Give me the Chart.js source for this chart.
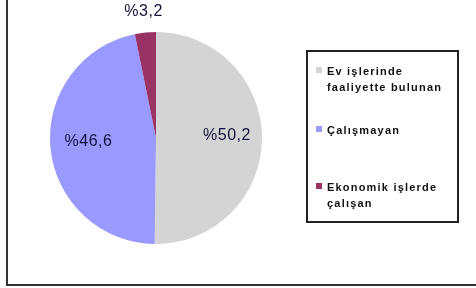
<!DOCTYPE html>
<html>
<head>
<meta charset="utf-8">
<script src="https://cdn.jsdelivr.net/npm/chart.js@4.4.1/dist/chart.umd.min.js"></script>
<style>
html,body{margin:0;padding:0;background:#fff;}
#wrap{position:relative;width:476px;height:288px;}
</style>
</head>
<body>
<div id="wrap"><canvas id="c" width="476" height="288"></canvas></div>
<script>
const categories = ["Ev işlerinde faaliyette bulunan", "Çalışmayan", "Ekonomik işlerde çalışan"];
const legendLines = [["Ev işlerinde", "faaliyette bulunan"], ["Çalışmayan"], ["Ekonomik işlerde", "çalışan"]];
const values = [50.2, 46.6, 3.2];
const valueLabels = ["%50,2", "%46,6", "%3,2"];
const colors = ["#d4d4d4", "#9999ff", "#993366"];

const decor = {
  id: 'decor',
  afterDraw(chart) {
    const ctx = chart.ctx;
    ctx.save();
    ctx.strokeStyle = '#333';
    ctx.lineWidth = 2;
    ctx.beginPath();
    ctx.moveTo(7, 0); ctx.lineTo(7, 285); ctx.lineTo(476, 285);
    ctx.stroke();

    const meta = chart.getDatasetMeta(0);
    const radFactor = [0.67, 0.64, 1.17];
    ctx.font = '16px "Liberation Sans", Arial, sans-serif';
    ctx.letterSpacing = '0.5px';
    ctx.fillStyle = '#14143a';
    ctx.textAlign = 'center';
    ctx.textBaseline = 'middle';
    meta.data.forEach((arc, i) => {
      const p = arc.getProps(['x','y','startAngle','endAngle','outerRadius'], true);
      const mid = (p.startAngle + p.endAngle) / 2;
      const r = p.outerRadius * radFactor[i];
      ctx.fillText(valueLabels[i], p.x + Math.cos(mid) * r, p.y + Math.sin(mid) * r - 3);
    });

    ctx.strokeStyle = '#222';
    ctx.lineWidth = 2;
    ctx.strokeRect(307, 51, 151, 171);
    const rows = [75, 134, 191];
    ctx.font = 'bold 11px "Liberation Sans", Arial, sans-serif';
    ctx.letterSpacing = '1.2px';
    ctx.textAlign = 'left';
    ctx.textBaseline = 'alphabetic';
    categories.forEach((c, i) => {
      ctx.fillStyle = colors[i];
      ctx.fillRect(316, rows[i] - 8, 6, 6);
      ctx.fillStyle = '#111';
      legendLines[i].forEach((ln, k) => {
        ctx.fillText(ln, 327, rows[i] + k * 16);
      });
    });
    ctx.restore();
  }
};

new Chart(document.getElementById('c'), {
  type: 'pie',
  data: {
    labels: categories,
    datasets: [{
      data: values,
      backgroundColor: colors,
      borderWidth: 0
    }]
  },
  options: {
    responsive: false,
    animation: false,
    layout: { padding: { left: 50, right: 214, top: 32, bottom: 44 } },
    plugins: { legend: { display: false }, tooltip: { enabled: false } }
  },
  plugins: [decor]
});
</script>
</body>
</html>
